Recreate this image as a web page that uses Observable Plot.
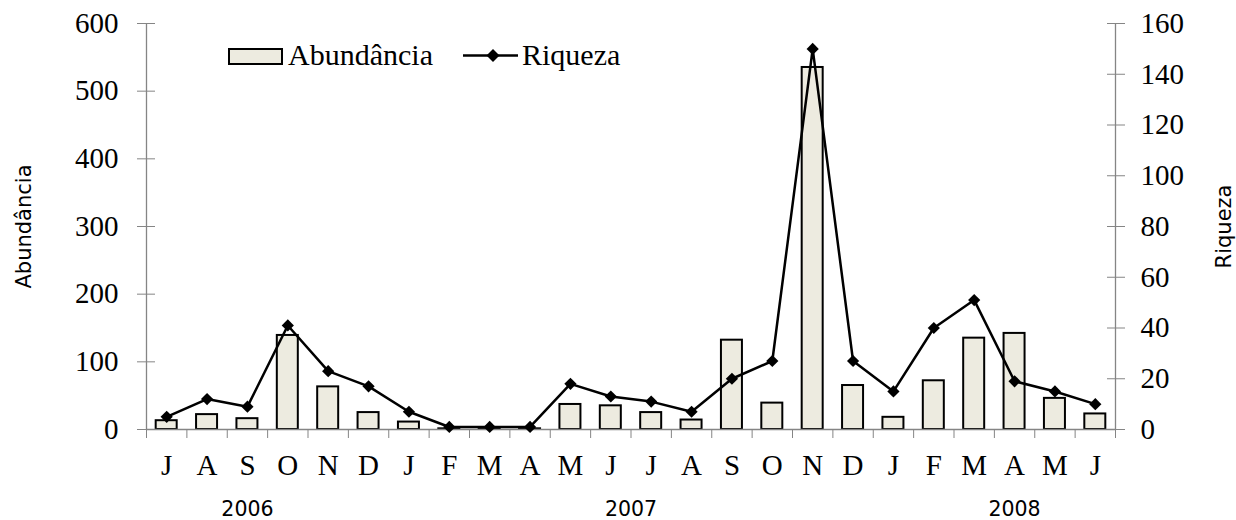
<!DOCTYPE html>
<html>
<head>
<meta charset="utf-8">
<script src="https://cdn.jsdelivr.net/npm/d3@7"></script>
<script src="https://cdn.jsdelivr.net/npm/@observablehq/plot@0.6"></script>
<style>
  html, body { margin: 0; padding: 0; background: #fff; }
  #wrap { position: relative; width: 1236px; height: 520px; }
  #legend { position: absolute; left: 226px; top: 36px; }
</style>
</head>
<body>
<div id="wrap">
  <div id="chart"></div>
  <svg id="legend" width="420" height="44" font-family="Liberation Serif" font-size="30">
    <rect x="3" y="13" width="53" height="15" fill="#EDEBE0" stroke="#000" stroke-width="2"></rect>
    <text x="62" y="29" fill="#000">Abundância</text>
    <line x1="237" y1="19.5" x2="292" y2="19.5" stroke="#000" stroke-width="2.5"></line>
    <path d="M267,13L273.5,19.5L267,26L260.5,19.5Z" fill="#000"></path>
    <text x="296" y="29" fill="#000">Riqueza</text>
  </svg>
</div>
<script>
const months = ["J","A","S","O","N","D","J","F","M","A","M","J","J","A","S","O","N","D","J","F","M","A","M","J"];
const abundancia = [13,22,16,139,63,25,11,1,1,1,37,35,25,14,132,39,535,65,18,72,135,142,46,23];
const riqueza = [5,12,9,41,23,17,7,1,1,1,18,13,11,7,20,27,150,27,15,40,51,19,15,10];
const abTicks = [0,100,200,300,400,500,600];
const riqTicks = [0,20,40,60,80,100,120,140,160];
const years = ["2006","2007","2008"];
const yearPos = [2.5, 12, 21.5];

const k = 600 / 160; // right-axis scale factor
const data = months.map((m, i) => ({i, m, ab: abundancia[i], riq: riqueza[i]}));
const axisGray = "#858585";
const serif = "Liberation Serif";
const sans = "DejaVu Sans";

const chart = Plot.plot({
  width: 1236,
  height: 520,
  marginLeft: 146,
  marginRight: 121,
  marginTop: 23,
  marginBottom: 91,
  style: {fontFamily: serif, fontSize: "29px", color: "#000", background: "#fff"},
  x: {type: "linear", domain: [0, 24], axis: null},
  y: {domain: [0, 600], axis: null, label: null},
  marks: [
    // bars
    Plot.rectY(data, {x1: d => d.i + 0.24, x2: d => d.i + 0.76, y1: 0, y2: "ab", fill: "#EDEBE0", stroke: "#000", strokeWidth: 2}),
    // axis lines
    Plot.ruleX([0, 24], {y1: 0, y2: 600, stroke: axisGray, strokeWidth: 1.3}),
    Plot.ruleY([0], {x1: 0, x2: 24, stroke: axisGray, strokeWidth: 1.3}),
    // left axis (cross ticks)
    Plot.axisY({anchor: "left", ticks: abTicks, tickSize: 9, tickPadding: 19, stroke: axisGray, fill: "#000", fontSize: 29, fontFamily: serif, label: null}),
    Plot.axisY({anchor: "left", ticks: abTicks, tickSize: -9, tickFormat: () => "", stroke: axisGray, label: null}),
    // right axis (Riqueza), cross ticks
    Plot.axisY({anchor: "right", ticks: riqTicks.map(v => v * k), tickFormat: d => String(Math.round(d / k)), tickSize: 9, tickPadding: 16, stroke: axisGray, fill: "#000", fontSize: 29, fontFamily: serif, label: null}),
    Plot.axisY({anchor: "right", ticks: riqTicks.map(v => v * k), tickSize: -9, tickFormat: () => "", stroke: axisGray, label: null}),
    // x axis: boundary ticks and month labels
    Plot.axisX({ticks: d3.range(25), tickSize: 9, tickFormat: () => "", stroke: axisGray, label: null}),
    Plot.axisX({ticks: d3.range(24).map(i => i + 0.5), tickSize: 0, tickPadding: 25, tickFormat: v => months[Math.floor(v)], fill: "#000", fontSize: 29, fontFamily: serif, label: null}),
    // year labels
    Plot.text(years, {x: (d, i) => yearPos[i], frameAnchor: "bottom", lineAnchor: "middle", textAnchor: "middle", dy: 80, text: d => d, fontFamily: sans, fontSize: 20.5, fill: "#000"}),
    // axis titles
    Plot.text(["Abundância"], {frameAnchor: "left", textAnchor: "middle", lineAnchor: "middle", dx: -122, rotate: -90, text: d => d, fontFamily: sans, fontSize: 21, fill: "#000"}),
    Plot.text(["Riqueza"], {frameAnchor: "right", textAnchor: "middle", lineAnchor: "middle", dx: 109, rotate: -90, text: d => d, fontFamily: sans, fontSize: 21, fill: "#000"}),
    // Riqueza line
    Plot.line(data, {x: d => d.i + 0.5, y: d => d.riq * k, stroke: "#000", strokeWidth: 2.5}),
    Plot.dot(data, {x: d => d.i + 0.5, y: d => d.riq * k, symbol: "diamond2", r: 5.5, fill: "#000", stroke: "none"})
  ]
});
document.getElementById("chart").appendChild(chart);
</script>
</body>
</html>
